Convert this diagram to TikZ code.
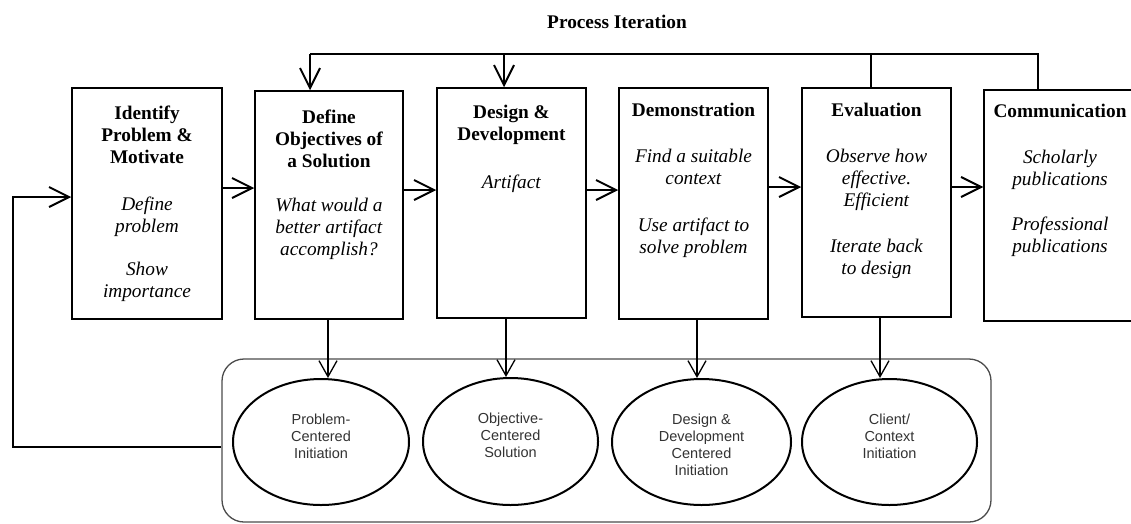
\documentclass[tikz,border=0pt]{standalone}
\usepackage{fontspec}
\setmainfont{Liberation Serif}
\newfontfamily\ellfont{Liberation Sans}
\usetikzlibrary{arrows.meta,shapes.geometric,calc}
\newcommand{\bl}[1]{\textbf{#1}}
\newcommand{\il}[1]{\textit{#1}}
\begin{document}
\begin{tikzpicture}[x=1pt,y=-1pt,
  boxstyle/.style={draw=black, line width=1.5pt, inner sep=0pt, rectangle},
  txt/.style={align=center, inner sep=0pt, anchor=north, font=\fontsize{19.3}{22}\selectfont},
  ellstyle/.style={draw=black, line width=2pt, ellipse, inner sep=0pt},
  etxt/.style={align=center, inner sep=0pt, anchor=north, text=black!80, font=\ellfont\fontsize{14.5}{17}\selectfont},
  grpstyle/.style={draw=black!70, line width=1.3pt, rounded corners=22pt, inner sep=0pt},
  thk/.style={line width=2pt},
  thkarr/.style={line width=2pt, -{Straight Barb[length=20pt,width=20pt]}},
  earr/.style={line width=1.3pt, -{Straight Barb[length=16pt,width=18pt]}}
]
\useasboundingbox[fill=white] (0,0) rectangle (1131,523);

% title
\node[font=\bfseries\fontsize{19.3}{22}\selectfont, inner sep=0pt] (title) at (617,22) {Process Iteration};

% main boxes
\node[boxstyle, minimum width=150pt, minimum height=231pt] (b1) at (147,203.5) {};
\node[boxstyle, minimum width=148pt, minimum height=228pt] (b2) at (329,205) {};
\node[boxstyle, minimum width=149pt, minimum height=230pt] (b3) at (511.5,203) {};
\node[boxstyle, minimum width=149pt, minimum height=231pt] (b4) at (693.5,203.5) {};
\node[boxstyle, minimum width=149pt, minimum height=229pt] (b5) at (876.5,202.5) {};
\node[boxstyle, minimum width=152pt, minimum height=231pt] (b6) at (1060,205.5) {};

% box texts
\node[txt] (t1) at ($(b1.north)+(0,18.5)$) {\bl{Identify}\\\bl{Problem \&}\\\bl{Motivate}\\[25pt]\il{Define}\\\il{problem}\\[21pt]\il{Show}\\\il{importance}};
\node[txt] (t2) at ($(b2.north)+(0,19.5)$) {\bl{Define}\\\bl{Objectives of}\\\bl{a Solution}\\[22pt]\il{What would a}\\\il{better artifact}\\\il{accomplish?}};
\node[txt] (t3) at ($(b3.north)+(0,17.5)$) {\bl{Design \&}\\\bl{Development}\\[26pt]\il{Artifact}};
\node[txt] (t4) at ($(b4.north)+(0,15.5)$) {\bl{Demonstration}\\[24pt]\il{Find a suitable}\\\il{context}\\[25pt]\il{Use artifact to}\\\il{solve problem}};
\node[txt] (t5) at ($(b5.north)+(0,15.5)$) {\bl{Evaluation}\\[24pt]\il{Observe how}\\\il{effective.}\\\il{Efficient}\\[24pt]\il{Iterate back}\\\il{to design}};
\node[txt] (t6) at ($(b6.north)+(0,14.5)$) {\bl{Communication}\\[24pt]\il{Scholarly}\\\il{publications}\\[23pt]\il{Professional}\\\il{publications}};

% group of entry points
\node[grpstyle, minimum width=769pt, minimum height=163pt] (grp) at (606.5,440.5) {};

\node[ellstyle, minimum width=176pt, minimum height=126pt] (e1) at (321,442) {};
\node[ellstyle, minimum width=175pt, minimum height=127pt] (e2) at (510.5,441.5) {};
\node[ellstyle, minimum width=179pt, minimum height=126pt] (e3) at (701.5,442) {};
\node[ellstyle, minimum width=175pt, minimum height=126pt] (e4) at (889.5,442) {};

\node[etxt] (l1) at ($(e1.north)+(0,36)$) {Problem-\\Centered\\Initiation};
\node[etxt] (l2) at ($(e2.north)+(0,36)$) {Objective-\\Centered\\Solution};
\node[etxt] (l3) at ($(e3.north)+(0,36)$) {Design \&\\Development\\Centered\\Initiation};
\node[etxt] (l4) at ($(e4.north)+(0,36)$) {Client/\\Context\\Initiation};

% process iteration loop
\coordinate (tl) at (310,54);
\coordinate (tr) at (1038,54);
\coordinate (t3) at (504,54);
\coordinate (t5) at (871,54);
\draw[thk] (tr |- b6.north) -- (tr) -- (tl);
\draw[thkarr] (tl) -- (tl |- b2.north);
\draw[thkarr] (t3) -- (t3 |- b3.north);
\draw[thk] (t5) -- (t5 |- b5.north);

% horizontal flow arrows
\draw[thkarr] (b1.east |- 0,188) -- (b2.west |- 0,188);
\draw[thkarr] (b2.east |- 0,190) -- (b3.west |- 0,190);
\draw[thkarr] (b3.east |- 0,190) -- (b4.west |- 0,190);
\draw[thkarr] (b4.east |- 0,187) -- (b5.west |- 0,187);
\draw[thkarr] (b5.east |- 0,187) -- (b6.west |- 0,187);

% feedback loop
\coordinate (fb) at (13,197);
\draw[thkarr] (grp.west |- 0,447) -| (fb) -- (b1.west |- fb);

% arrows down to entry points
\coordinate (d2) at (328,319);
\coordinate (d3) at (506,318);
\coordinate (d4) at (697,319);
\coordinate (d5) at (880,317);
\draw[earr] (d2 |- b2.south) -- (d2 |- e1.north);
\draw[earr] (d3 |- b3.south) -- (d3 |- e2.north);
\draw[earr] (d4 |- b4.south) -- (d4 |- e3.north);
\draw[earr] (d5 |- b5.south) -- (d5 |- e4.north);
\end{tikzpicture}
\end{document}
